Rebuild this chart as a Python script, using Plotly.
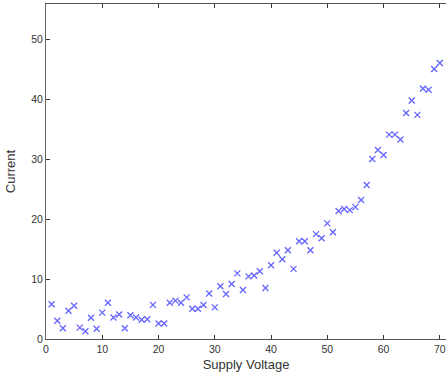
import plotly.graph_objects as go

voltage = list(range(1, 71))
current = [5.8, 3.05, 1.8, 4.7, 5.55, 1.9, 1.3, 3.55, 1.7, 4.4,
           6.05, 3.6, 4.1, 1.8, 3.95, 3.6, 3.2, 3.3, 5.7, 2.6,
           2.6, 6.05, 6.4, 6.05, 6.95, 5.05, 5.05, 5.67, 7.6, 5.28,
           8.8, 7.5, 9.17, 10.95, 8.17, 10.45, 10.6, 11.3, 8.5, 12.3,
           14.4, 13.3, 14.8, 11.7, 16.3, 16.3, 14.8, 17.5, 16.8, 19.3,
           17.8, 21.35, 21.7, 21.5, 22.0, 23.2, 25.7, 30.05, 31.55, 30.7,
           34.1, 34.1, 33.3, 37.7, 39.8, 37.4, 41.8, 41.6, 45.05, 46.05]

x_ticks = [0, 10, 20, 30, 40, 50, 60, 70]
y_ticks = [0, 10, 20, 30, 40, 50]

fig = go.Figure()
fig.add_trace(go.Scatter(
    x=voltage, y=current, mode="markers",
    marker=dict(symbol="x-thin-open", size=6, color="rgb(100,100,255)",
                line=dict(width=1.3, color="rgb(100,100,255)")),
    showlegend=False,
))

font = dict(family="Liberation Sans, Arial, sans-serif", size=10.5, color="#333333")
fig.update_layout(
    width=446, height=378,
    margin=dict(l=46, r=0, t=4, b=39, pad=0),
    paper_bgcolor="white", plot_bgcolor="white",
    font=font,
    xaxis=dict(range=[0, 71.1], tickvals=x_ticks, ticks="inside", ticklen=4,
               tickcolor="#333", showline=True, linecolor="#555", linewidth=1,
               mirror="ticks", showgrid=False, zeroline=False,
               title=dict(text="Supply Voltage", standoff=6),
               tickfont=font),
    yaxis=dict(range=[0, 55.9], tickvals=y_ticks, ticks="inside", ticklen=4,
               tickcolor="#333", showline=True, linecolor="#666", linewidth=1,
               showgrid=False, zeroline=False,
               title=dict(text="Current", standoff=12),
               tickfont=font),
)
fig.write_html("out.html", config={"displayModeBar": False},
               post_script="document.body.style.margin='0';document.body.style.overflow='hidden';")
